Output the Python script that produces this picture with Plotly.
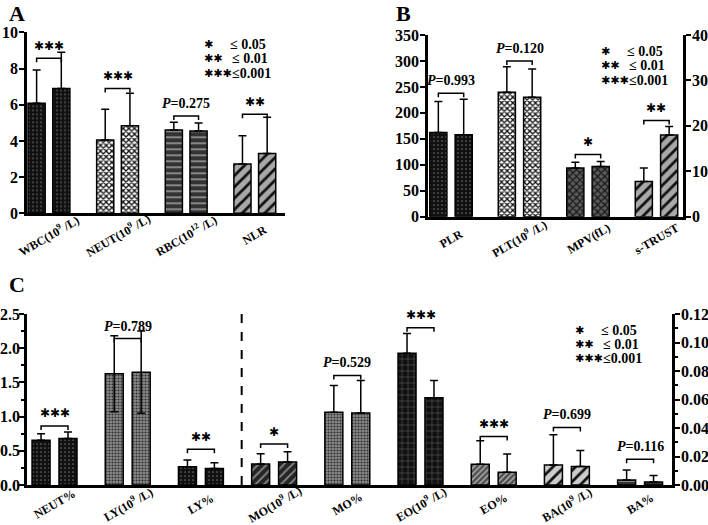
import plotly.graph_objects as go

# ---------------- data ----------------
A_categories = ["WBC(10<sup>9</sup> /L)", "NEUT(10<sup>9</sup> /L)", "RBC(10<sup>12</sup> /L)", "NLR"]
A_mean_1 = [6.08, 4.05, 4.60, 2.72]
A_sd_1 = [1.84, 1.70, 0.43, 1.57]
A_mean_2 = [6.90, 4.84, 4.55, 3.31]
A_sd_2 = [2.00, 1.79, 0.44, 1.99]
A_sig = ["***", "***", "P=0.275", "**"]

B_categories = ["PLR", "PLT(10<sup>9</sup> /L)", "MPV(fL)", "s-TRUST"]
B_axis = ["left", "left", "right", "right"]
B_mean_1 = [162.0, 239.8, 10.7, 7.76]
B_sd_1 = [59.7, 49.2, 1.3, 2.94]
B_mean_2 = [157.7, 230.0, 11.05, 18.0]
B_sd_2 = [68.3, 54.6, 1.1, 1.85]
B_sig = ["P=0.993", "P=0.120", "*", "**"]

C_categories = ["NEUT%", "LY(10<sup>9</sup> /L)", "LY%", "MO(10<sup>9</sup> /L)", "MO%",
                "EO(10<sup>9</sup> /L)", "EO%", "BA(10<sup>9</sup> /L)", "BA%"]
C_axis = ["left", "left", "left", "right", "right", "right", "right", "right", "right"]
C_mean_1 = [0.655, 1.626, 0.267, 0.0148, 0.0510, 0.0925, 0.0146, 0.0141, 0.0035]
C_sd_1 = [0.095, 0.555, 0.097, 0.0071, 0.0189, 0.0139, 0.0164, 0.0212, 0.0071]
C_mean_2 = [0.680, 1.650, 0.243, 0.0162, 0.0506, 0.0612, 0.0090, 0.0129, 0.0021]
C_sd_2 = [0.096, 0.600, 0.082, 0.0071, 0.0228, 0.0122, 0.0127, 0.0113, 0.0045]
C_two_sided = [False, True, False, False, False, False, False, False, False]
C_sig = ["***", "P=0.789", "**", "*", "P=0.529", "***", "***", "P=0.699", "P=0.116"]

# ---------------- layout / style ----------------
W, H = 708, 525
SERIF = "Liberation Serif"
STAR_FONT = "DejaVu Sans"

A_bracket = [8.56, 6.90, 5.38, 5.47]
B_bracket = [238, 300, 13.7, 21.2]
C_bracket = [0.863, 2.14, 0.524, 0.0287, 0.0769, 0.1103, 0.0341, 0.0404, 0.0181]

P_dotblack = dict(shape=".", bgcolor="#111111", fgcolor="#6a6a6a", size=4, solidity=0.15)
P_checker = dict(shape="x", bgcolor="#ffffff", fgcolor="#111111", size=4, solidity=0.55)
P_hstripe = dict(shape="-", bgcolor="#333333", fgcolor="#c0c0c0", size=6, solidity=0.2)
P_diaggray = dict(shape="/", bgcolor="#a8a8a8", fgcolor="#111111", size=8, solidity=0.35)
P_cross = dict(shape="x", bgcolor="#5a5a5a", fgcolor="#151515", size=5, solidity=0.4)
P_finegray = dict(shape=".", bgcolor="#8a8a8a", fgcolor="#303030", size=3, solidity=0.4)
P_darkdiag = dict(shape="/", bgcolor="#252525", fgcolor="#8a8a8a", size=6, solidity=0.3)
P_brick = dict(shape="+", bgcolor="#111111", fgcolor="#6a6a6a", size=6, solidity=0.15)
P_middiag = dict(shape="/", bgcolor="#505050", fgcolor="#bbbbbb", size=4, solidity=0.3)
P_lightdiag = dict(shape="/", bgcolor="#cccccc", fgcolor="#111111", size=8, solidity=0.35)
P_darkdash = dict(shape="-", bgcolor="#333333", fgcolor="#888888", size=5, solidity=0.2)

A_styles = [P_dotblack, P_checker, P_hstripe, P_diaggray]
B_styles = [P_dotblack, P_checker, P_cross, P_diaggray]
C_styles = [P_dotblack, P_finegray, P_dotblack, P_darkdiag, P_finegray,
            P_brick, P_middiag, P_lightdiag, P_darkdash]


def px_x(p):
    return p / W


def px_y(p):
    return 1 - p / H


fig = go.Figure()

panels = [
    dict(cats=A_categories, m1=A_mean_1, s1=A_sd_1, m2=A_mean_2, s2=A_sd_2,
         two=[False] * 4, axis=["left"] * 4, sig=A_sig, br=A_bracket, styles=A_styles,
         xa="x", yl="y", yr=None, xdom=[27, 285], ydom=[213.3, 32.3], lab_shift=-22,
         xr=[-0.32, 3.44], yrl=[0, 10], yrr=None, off=0.18, bw=0.25),
    dict(cats=B_categories, m1=B_mean_1, s1=B_sd_1, m2=B_mean_2, s2=B_sd_2,
         two=[False] * 4, axis=B_axis, sig=B_sig, br=B_bracket, styles=B_styles,
         xa="x2", yl="y2", yr="y3", xdom=[428, 683], ydom=[216.7, 35], lab_shift=-22,
         xr=[-0.336, 3.387], yrl=[0, 350], yrr=[0, 40], off=0.185, bw=0.25),
    dict(cats=C_categories, m1=C_mean_1, s1=C_sd_1, m2=C_mean_2, s2=C_sd_2,
         two=C_two_sided, axis=C_axis, sig=C_sig, br=C_bracket, styles=C_styles,
         xa="x4", yl="y4", yr="y5", xdom=[27, 672], ydom=[485, 314], lab_shift=-19,
         xr=[-0.376, 8.436], yrl=[0, 2.5], yrr=[0, 0.12], off=0.184, bw=0.246),
]

annotations = []
shapes = []


def fmt_sig(s):
    if s.startswith("P"):
        return "<i>P</i>" + s[1:], SERIF, 14
    return s.replace("*", "\u2731"), STAR_FONT, 12


for pn in panels:
    hpx = pn["ydom"][0] - pn["ydom"][1]
    for i, cat in enumerate(pn["cats"]):
        yax = pn["yl"] if pn["axis"][i] == "left" else pn["yr"]
        rng = pn["yrl"] if pn["axis"][i] == "left" else pn["yrr"]
        st = pn["styles"][i]
        for g, (m, s) in enumerate([(pn["m1"][i], pn["s1"][i]), (pn["m2"][i], pn["s2"][i])]):
            xpos = i - pn["off"] if g == 0 else i + pn["off"]
            fig.add_trace(go.Bar(
                x=[xpos], y=[m], width=pn["bw"], xaxis=pn["xa"], yaxis=yax,
                marker=dict(color=st["bgcolor"], line=dict(color="black", width=1.5),
                            pattern=dict(shape=st["shape"], bgcolor=st["bgcolor"],
                                         fgcolor=st["fgcolor"], size=st["size"],
                                         solidity=st["solidity"], fillmode="replace")),
                error_y=dict(type="data", array=[s],
                             arrayminus=[s if pn["two"][i] else 0],
                             symmetric=False, color="black", thickness=1.5, width=4),
                hoverinfo="skip", showlegend=False,
            ))
        # bracket
        h = pn["br"][i]
        t = 4 * (rng[1] - rng[0]) / hpx
        fig.add_trace(go.Scatter(
            x=[i - pn["off"], i - pn["off"], i + pn["off"], i + pn["off"]],
            y=[h - t, h, h, h - t], mode="lines", xaxis=pn["xa"], yaxis=yax,
            line=dict(color="black", width=1.5), hoverinfo="skip", showlegend=False,
            cliponaxis=False,
        ))
        txt, fam, sz = fmt_sig(pn["sig"][i])
        annotations.append(dict(
            x=i, y=h, xref=pn["xa"], yref=yax, text=txt, showarrow=False,
            xanchor="center", yanchor="middle", yshift=12.5,
            font=dict(family=fam, size=sz, color="black", weight="bold"),
        ))
        # category label
        annotations.append(dict(
            x=i, y=0, xref=pn["xa"], yref=pn["yl"], text=cat, showarrow=False,
            xanchor="center", yanchor="middle", yshift=pn["lab_shift"], textangle=-30,
            font=dict(family=SERIF, size=12, color="black", weight="bold"),
        ))

# axes
tickfont = dict(family=SERIF, size=16, color="black", weight="bold")
common_x = dict(showline=True, linewidth=2.5, linecolor="black", ticks="",
                showticklabels=False, showgrid=False, zeroline=False, automargin=False)
common_y = dict(showline=True, linewidth=2.5, linecolor="black", ticks="outside",
                ticklen=5, tickwidth=2, tickcolor="black", showgrid=False,
                zeroline=False, tickfont=tickfont, automargin=False)

lay = dict(
    template="none",
    width=W, height=H, margin=dict(l=0, r=0, t=0, b=0, pad=0, autoexpand=False),
    plot_bgcolor="white", paper_bgcolor="white", showlegend=False, barmode="overlay",
    xaxis=dict(domain=[px_x(27), px_x(285)], range=panels[0]["xr"], anchor="y", **common_x),
    yaxis=dict(domain=[px_y(213.3), px_y(32.3)], range=[0, 10], dtick=2, tick0=0,
               anchor="x", ticklabelstandoff=-2, **common_y),
    xaxis2=dict(domain=[px_x(428), px_x(683)], range=panels[1]["xr"], anchor="y2", **common_x),
    yaxis2=dict(domain=[px_y(216.7), px_y(35)], range=[0, 350], dtick=50, tick0=0,
                anchor="x2", ticklabelstandoff=-2, **common_y),
    yaxis3=dict(range=[0, 40], dtick=10, tick0=0, overlaying="y2", side="right",
                anchor="x2", ticklabelstandoff=-2, **common_y),
    xaxis4=dict(domain=[px_x(27), px_x(672)], range=panels[2]["xr"], anchor="y4", **common_x),
    yaxis4=dict(domain=[px_y(485), px_y(314)], range=[0, 2.5], dtick=0.5, tick0=0,
                tickformat=".1f", anchor="x4", ticklabelstandoff=-4,
                minor=dict(ticks="outside", dtick=0.25, ticklen=3, tickwidth=1.5,
                           tickcolor="black"),
                **common_y),
    yaxis5=dict(range=[0, 0.12], dtick=0.02, tick0=0, tickformat=".2f",
                overlaying="y4", side="right", anchor="x4", ticklabelstandoff=-2,
                minor=dict(ticks="outside", dtick=0.01, ticklen=3, tickwidth=1.5,
                           tickcolor="black"),
                **common_y),
)

# dashed divider in panel C
shapes.append(dict(type="line", xref="x4", yref="y4 domain", x0=2.557, x1=2.557,
                   y0=0, y1=1, line=dict(color="black", width=2, dash="dash")))

# panel letters
for letter, lx, ly in [("A", 7, 14), ("B", 394, 14), ("C", 7, 284)]:
    annotations.append(dict(x=px_x(lx), y=px_y(ly), xref="paper", yref="paper",
                            text=letter, showarrow=False, xanchor="left", yanchor="middle",
                            font=dict(family=SERIF, size=22, color="black", weight="bold")))

# significance keys
key_rows = [("*", "\u2264 0.05"), ("**", "\u2264 0.01"), ("***", "\u22640.001")]
for kx, ky0, dy in [(202, 44.3, 14.5), (599, 51.7, 14.2), (573, 330, 14)]:
    for r, (stars, thr) in enumerate(key_rows):
        yy = ky0 + r * dy
        annotations.append(dict(x=px_x(kx), y=px_y(yy), xref="paper", yref="paper",
                                text=stars.replace("*", "\u2731"), showarrow=False,
                                xanchor="left", yanchor="middle",
                                font=dict(family=STAR_FONT, size=11, color="black",
                                          weight="bold")))
        tx = kx + (26 if r == 0 else 28)
        annotations.append(dict(x=px_x(tx), y=px_y(yy), xref="paper", yref="paper",
                                text=thr, showarrow=False, xanchor="left", yanchor="middle",
                                font=dict(family=SERIF, size=14, color="black",
                                          weight="bold")))

lay["annotations"] = annotations
lay["shapes"] = shapes
fig.update_layout(**lay)

fig.write_html("out.html", config={"displayModeBar": False},
               post_script="document.body.style.margin='0px';"
                           "document.body.style.overflow='hidden';")
